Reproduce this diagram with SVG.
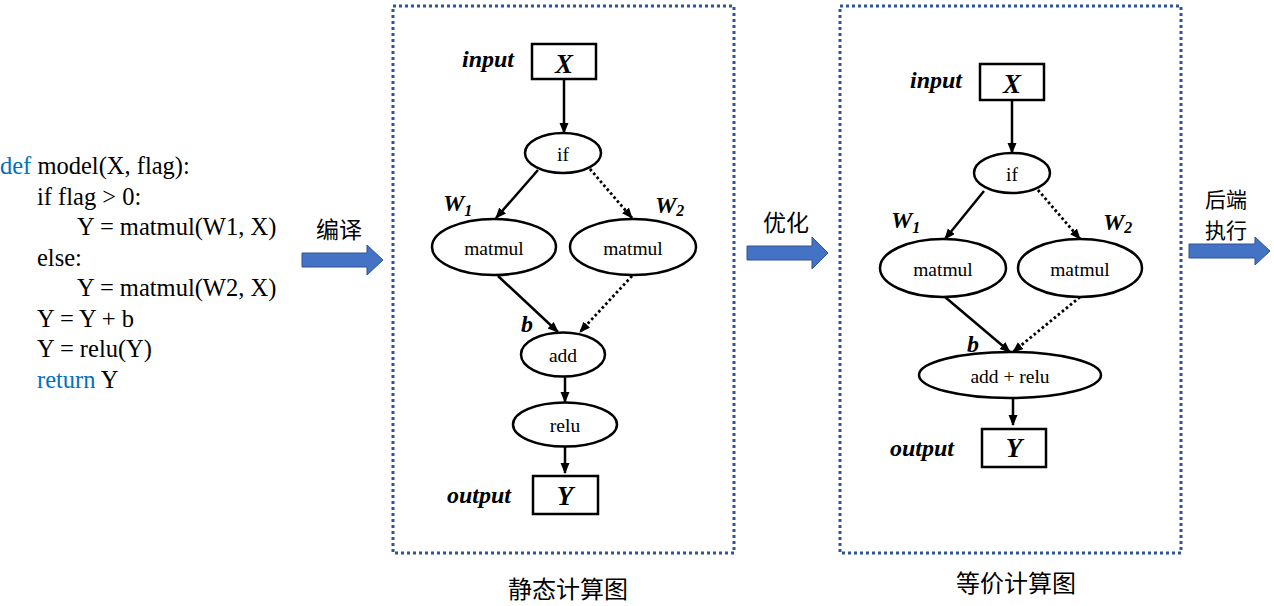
<svg xmlns="http://www.w3.org/2000/svg" width="1274" height="606" viewBox="0 0 1274 606">
<style>
.code{font-family:"Liberation Serif","Times New Roman",serif;font-size:24.5px;fill:#000}
.kw{fill:#0070C0}
.lbl{font-family:"Liberation Serif","Times New Roman",serif;font-size:19.5px;fill:#000;text-anchor:middle}
.bi{font-family:"Liberation Serif","Times New Roman",serif;font-weight:bold;font-style:italic;fill:#000}
.io{font-size:24px}
.var{font-size:27px;text-anchor:middle}
.sub{font-size:16px}
.cjk{font-family:"Noto Sans CJK SC",sans-serif;font-size:23px;fill:#000}
.cjk2{font-family:"Noto Sans CJK SC",sans-serif;font-size:21px;fill:#000}
.cap{font-family:"Noto Sans CJK SC",sans-serif;font-size:24px;fill:#000;text-anchor:middle}
.frame{fill:none;stroke:#2F5597;stroke-width:3;stroke-dasharray:3 3}
.shape{fill:#fff;stroke:#000;stroke-width:2.5}
.edge{stroke:#000;stroke-width:2.5;fill:none;marker-end:url(#ah)}
.dot{stroke:#000;stroke-width:2.8;fill:none;stroke-dasharray:2.6 2.6;marker-end:url(#ah)}
.big{fill:#4472C4;stroke:#2F528F;stroke-width:1}
</style>
<defs>
<marker id="ah" markerUnits="userSpaceOnUse" markerWidth="12" markerHeight="10" refX="10" refY="4.5" orient="auto" viewBox="0 0 12 10">
<path d="M0,0 L11,4.5 L0,9 z" fill="#000"/>
</marker>
</defs>

<g id="code">
<text class="code" x="0" y="174"><tspan class="kw">def</tspan> model(X, flag):</text>
<text class="code" x="37" y="204.5">if flag &gt; 0:</text>
<text class="code" x="77" y="235">Y = matmul(W1, X)</text>
<text class="code" x="37" y="265.5">else:</text>
<text class="code" x="77" y="296">Y = matmul(W2, X)</text>
<text class="code" x="37" y="326.5">Y = Y + b</text>
<text class="code" x="37" y="357">Y = relu(Y)</text>
<text class="code" x="37" y="387.5"><tspan class="kw">return</tspan> Y</text>
</g>

<g id="arrow-compile">
<polygon class="big" points="302,253 367,253 367,245 383,260 367,275 367,267 302,267"/>
<text class="cjk" x="316" y="238">编译</text>
</g>
<g id="arrow-optimize">
<polygon class="big" points="747,246 812,246 812,237 828,253 812,269 812,260 747,260"/>
<text class="cjk" x="763" y="231">优化</text>
</g>
<g id="arrow-backend">
<polygon class="big" points="1189,244 1255,244 1255,237 1270,251 1255,265 1255,258 1189,258"/>
<text class="cjk2" x="1205" y="207">后端</text>
<text class="cjk2" x="1205" y="238">执行</text>
</g>

<g id="frame-static">
<rect class="frame" x="393" y="6" width="341" height="547"/>
<text class="cap" x="568" y="598">静态计算图</text>
</g>
<g id="frame-equiv">
<rect class="frame" x="840" y="6" width="341" height="547"/>
<text class="cap" x="1016" y="592">等价计算图</text>
</g>

<g id="connectors">
<line class="edge" x1="564" y1="79" x2="564" y2="133"/>
<line class="edge" x1="538" y1="170" x2="496" y2="218"/>
<line class="dot" x1="590" y1="169" x2="632" y2="218"/>
<line class="edge" x1="498" y1="276" x2="558" y2="332"/>
<line class="dot" x1="632" y1="276" x2="580" y2="332"/>
<line class="edge" x1="565" y1="377" x2="565" y2="402"/>
<line class="edge" x1="565" y1="447" x2="565" y2="473"/>

<line class="edge" x1="1012" y1="100" x2="1012" y2="153"/>
<line class="edge" x1="984" y1="191" x2="945" y2="239"/>
<line class="dot" x1="1038" y1="190" x2="1080" y2="239"/>
<line class="edge" x1="945" y1="297" x2="1010" y2="352"/>
<line class="dot" x1="1080" y1="297" x2="1013" y2="352"/>
<line class="edge" x1="1013" y1="398" x2="1013" y2="425"/>
</g>

<g id="s-input">
<text class="bi io" x="462" y="67">input</text>
<rect class="shape" x="532" y="44" width="64" height="35"/>
<text class="bi var" x="564" y="73">X</text>
</g>
<g id="s-if">
<ellipse class="shape" cx="563" cy="153" rx="38" ry="20"/>
<text class="lbl" x="563" y="160.5">if</text>
</g>
<g id="s-matmul1">
<text class="bi" x="443" y="211"><tspan class="io">W</tspan><tspan class="sub" dy="5">1</tspan></text>
<ellipse class="shape" cx="494" cy="247" rx="62" ry="28"/>
<text class="lbl" x="494" y="254.5">matmul</text>
</g>
<g id="s-matmul2">
<text class="bi" x="655" y="213"><tspan class="io">W</tspan><tspan class="sub" dy="3">2</tspan></text>
<ellipse class="shape" cx="633" cy="247" rx="63" ry="28"/>
<text class="lbl" x="633" y="254.5">matmul</text>
</g>
<g id="s-add">
<text class="bi io" x="521" y="332">b</text>
<ellipse class="shape" cx="563" cy="354.5" rx="42" ry="22"/>
<text class="lbl" x="563" y="362">add</text>
</g>
<g id="s-relu">
<ellipse class="shape" cx="565" cy="424.5" rx="52" ry="22"/>
<text class="lbl" x="565" y="432">relu</text>
</g>
<g id="s-output">
<text class="bi io" x="447" y="503">output</text>
<rect class="shape" x="533" y="476" width="65" height="38"/>
<text class="bi var" x="565" y="505">Y</text>
</g>

<g id="e-input">
<text class="bi io" x="910" y="88">input</text>
<rect class="shape" x="980" y="64" width="64" height="36"/>
<text class="bi var" x="1012" y="93">X</text>
</g>
<g id="e-if">
<ellipse class="shape" cx="1012" cy="173" rx="38" ry="20"/>
<text class="lbl" x="1012" y="180.5">if</text>
</g>
<g id="e-matmul1">
<text class="bi" x="891" y="228"><tspan class="io">W</tspan><tspan class="sub" dy="5">1</tspan></text>
<ellipse class="shape" cx="943" cy="268" rx="63" ry="29"/>
<text class="lbl" x="943" y="275.5">matmul</text>
</g>
<g id="e-matmul2">
<text class="bi" x="1103" y="230"><tspan class="io">W</tspan><tspan class="sub" dy="3">2</tspan></text>
<ellipse class="shape" cx="1080" cy="268" rx="62" ry="29"/>
<text class="lbl" x="1080" y="275.5">matmul</text>
</g>
<g id="e-addrelu">
<text class="bi io" x="967" y="352">b</text>
<ellipse class="shape" cx="1010" cy="375" rx="91" ry="23"/>
<text class="lbl" x="1010" y="382.5">add + relu</text>
</g>
<g id="e-output">
<text class="bi io" x="890" y="456">output</text>
<rect class="shape" x="982" y="429" width="64" height="38"/>
<text class="bi var" x="1014" y="457">Y</text>
</g>
</svg>
